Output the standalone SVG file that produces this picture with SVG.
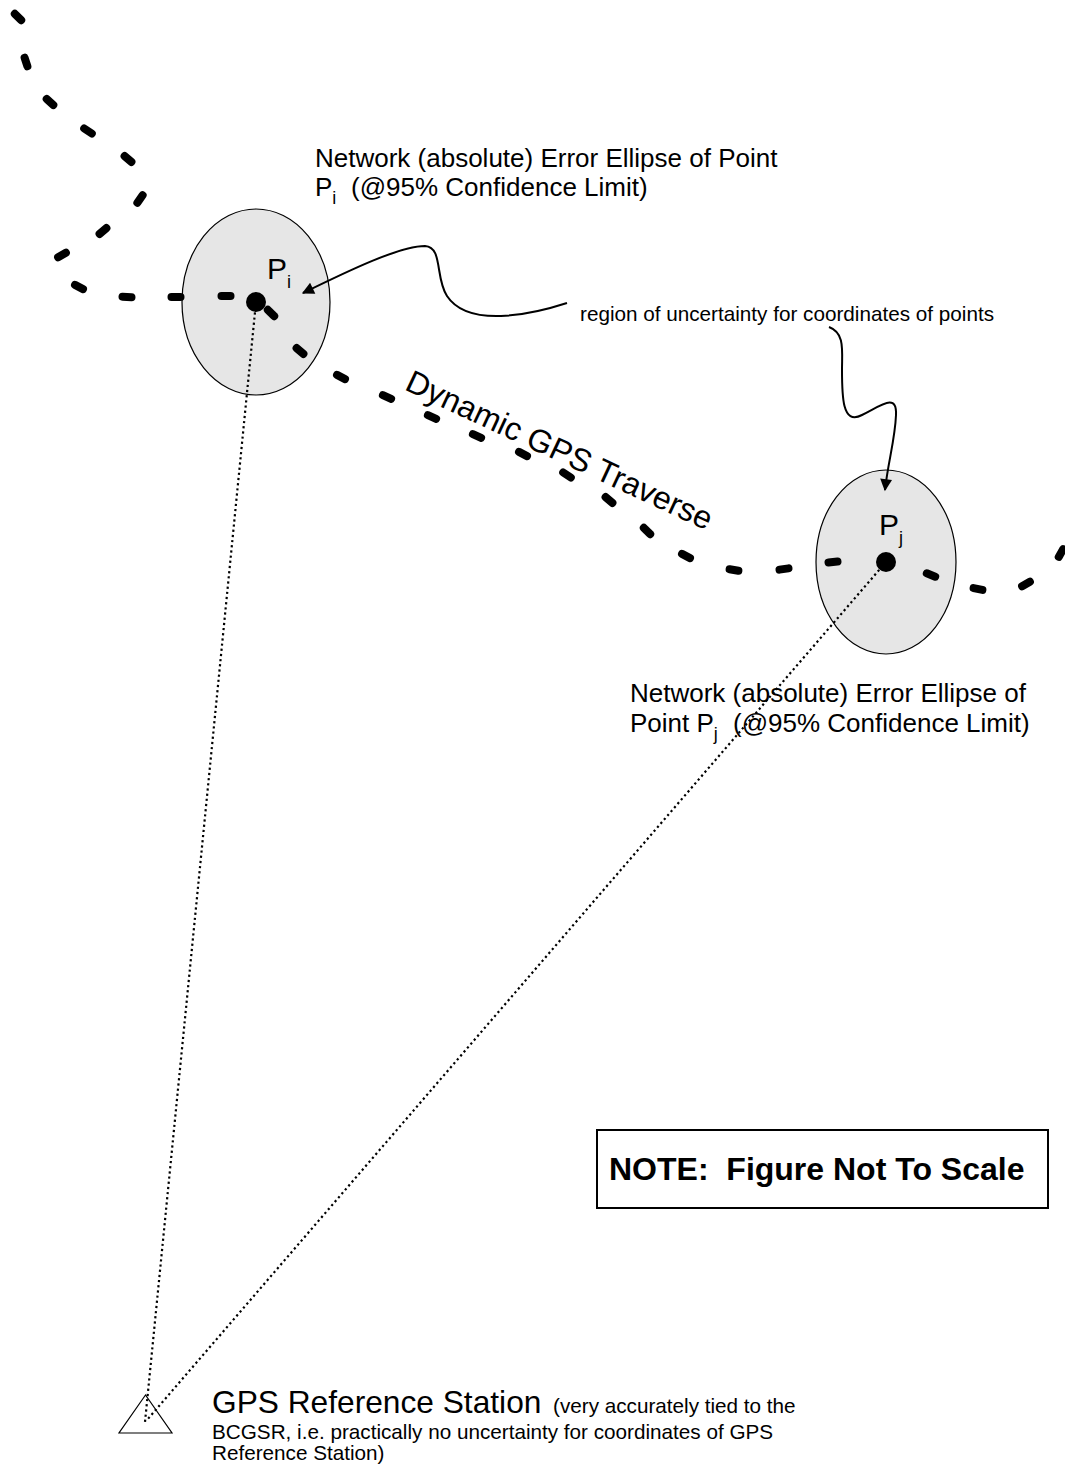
<svg xmlns="http://www.w3.org/2000/svg" width="1065" height="1465" viewBox="0 0 1065 1465">
<style>
text{font-family:"Liberation Sans",Arial,Helvetica,sans-serif;fill:#000}
.dash{stroke:#000;stroke-width:8;stroke-linecap:round;fill:none}
.ell{fill:#e6e6e6;stroke:#000;stroke-width:1.2}
.dot{fill:#000}
.dotted{stroke:#000;stroke-width:2.2;stroke-dasharray:2.2 3;fill:none}
.arrow{stroke:#000;stroke-width:2;fill:none;marker-end:url(#ah)}
.lbl26{font-size:26px}
.lbl21{font-size:20.7px}
.plabel{font-size:30px}
.sub{font-size:18px}
</style>
<defs>
<marker id="ah" viewBox="0 0 10 10" refX="9" refY="5" markerWidth="15" markerHeight="12" markerUnits="userSpaceOnUse" orient="auto">
<path d="M0,0 L10,5 L0,10 z" fill="#000"/>
</marker>
</defs>
<rect width="1065" height="1465" fill="#fff"/>

<g id="ellipses">
<g id="node-Pi-ellipse"><ellipse class="ell" cx="256" cy="302" rx="74" ry="93"/></g>
<g id="node-Pj-ellipse"><ellipse class="ell" cx="886" cy="562" rx="70" ry="92"/></g>
</g>

<g id="traverse">
<line class="dash" x1="14.8" y1="13.8" x2="21.2" y2="20.2"/>
<line class="dash" x1="24.6" y1="57.7" x2="27.4" y2="66.3"/>
<line class="dash" x1="46.7" y1="99" x2="53.3" y2="105"/>
<line class="dash" x1="84.2" y1="128.5" x2="91.8" y2="133.5"/>
<line class="dash" x1="124.6" y1="156.1" x2="131.4" y2="161.9"/>
<line class="dash" x1="142.6" y1="195.3" x2="137.4" y2="202.7"/>
<line class="dash" x1="106.4" y1="228.1" x2="99.6" y2="233.9"/>
<line class="dash" x1="65.9" y1="252.75" x2="58.1" y2="257.25"/>
<line class="dash" x1="75" y1="284.9" x2="83" y2="289.1"/>
<line class="dash" x1="122.5" y1="296.8" x2="131.5" y2="297.2"/>
<line class="dash" x1="171.5" y1="297" x2="180.5" y2="297"/>
<line class="dash" x1="221.5" y1="296" x2="230.5" y2="296"/>
<line class="dash" x1="267.8" y1="309.8" x2="274.2" y2="316.2"/>
<line class="dash" x1="296.6" y1="348.1" x2="303.4" y2="353.9"/>
<line class="dash" x1="337" y1="374.9" x2="345" y2="379.1"/>
<line class="dash" x1="382.9" y1="395.1" x2="391.1" y2="398.9"/>
<line class="dash" x1="427.9" y1="415.1" x2="436.1" y2="418.9"/>
<line class="dash" x1="472.9" y1="434.1" x2="481.1" y2="437.9"/>
<line class="dash" x1="519" y1="451.9" x2="527" y2="456.1"/>
<line class="dash" x1="563.2" y1="472.5" x2="570.8" y2="477.5"/>
<line class="dash" x1="605.6" y1="497.1" x2="612.4" y2="502.9"/>
<line class="dash" x1="643.8" y1="527.8" x2="650.2" y2="534.2"/>
<line class="dash" x1="682" y1="553.9" x2="690" y2="558.1"/>
<line class="dash" x1="729.6" y1="569.2" x2="738.4" y2="570.8"/>
<line class="dash" x1="779.5" y1="569.6" x2="788.5" y2="568.4"/>
<line class="dash" x1="828.5" y1="562.4" x2="837.5" y2="561.6"/>
<line class="dash" x1="926.8" y1="573.3" x2="935.2" y2="576.7"/>
<line class="dash" x1="973.6" y1="588.1" x2="982.4" y2="589.9"/>
<line class="dash" x1="1022.1" y1="586.25" x2="1029.9" y2="581.75"/>
<line class="dash" x1="1058.75" y1="556.9" x2="1063.25" y2="549.1"/>
</g>

<g id="connectors">
<line class="dotted" x1="256" y1="302" x2="145" y2="1422"/>
<line class="dotted" x1="886" y1="562" x2="147" y2="1420"/>
<path class="arrow" d="M567,303 C530,315 468,328 447,296 C435,278 443,247 425,246 C400,246 350,270 303,293"/>
<path class="arrow" d="M829,327 C845,333 842,350 842,370 C842,395 842,426 862,415 C882,405 897,393 896,415 C895,440 888,462 885,490"/>
</g>

<g id="node-Pi">
<circle class="dot" cx="256" cy="302" r="10"/>
<text x="267" y="279" class="plabel">P<tspan class="sub" dy="9">i</tspan></text>
</g>

<g id="node-Pj">
<circle class="dot" cx="886" cy="562" r="10"/>
<text x="879" y="535" class="plabel">P<tspan class="sub" dy="9">j</tspan></text>
</g>

<g id="label-Pi">
<text x="315" y="167" class="lbl26">Network (absolute) Error Ellipse of Point</text>
<text x="315" y="196" class="lbl26">P<tspan class="sub" dy="8">i</tspan><tspan dy="-8" x="351">(@95% Confidence Limit)</tspan></text>
</g>

<g id="label-Pj">
<text x="630" y="702" class="lbl26">Network (absolute) Error Ellipse of</text>
<text x="630" y="732" class="lbl26">Point P<tspan class="sub" dy="8">j</tspan><tspan dy="-8" x="733">(@95% Confidence Limit)</tspan></text>
</g>

<g id="label-region">
<text x="580" y="321" class="lbl21">region of uncertainty for coordinates of points</text>
</g>

<g id="label-traverse">
<text transform="translate(555,460) rotate(25)" text-anchor="middle" font-size="32">Dynamic GPS Traverse</text>
</g>

<g id="node-station">
<polygon points="145.5,1395 119,1433 172,1433" fill="none" stroke="#000" stroke-width="1.2"/>
<text x="212" y="1413"><tspan font-size="31.7">GPS Reference Station</tspan><tspan font-size="20.7" x="553">(very accurately tied to the</tspan></text>
<text x="212" y="1439" class="lbl21">BCGSR, i.e. practically no uncertainty for coordinates of GPS</text>
<text x="212" y="1460" class="lbl21">Reference Station)</text>
</g>

<g id="node-note">
<rect x="597" y="1130" width="451" height="78" fill="none" stroke="#000" stroke-width="2"/>
<text x="609" y="1180" font-size="32" font-weight="bold" xml:space="preserve">NOTE:  Figure Not To Scale</text>
</g>
</svg>
